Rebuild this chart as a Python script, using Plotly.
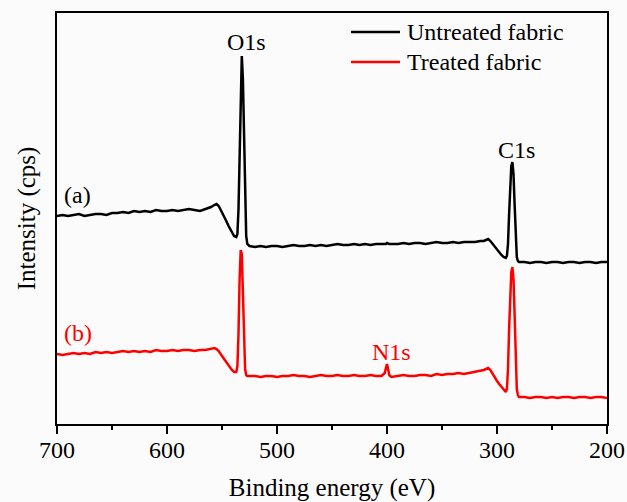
import plotly.graph_objects as go

# Binding energy (eV) sample points
energy = [700, 695, 690, 685, 680, 675, 670, 665, 660, 655, 650, 645, 640, 635, 630,
          625, 620, 615, 610, 605, 600, 595, 590, 585, 580, 575, 570,
          565, 560, 557, 555, 553, 550, 547, 544, 541, 539, 537, 536, 535, 534, 533,
          532, 531, 530, 529, 528, 527, 525,
          520, 515, 510, 505, 500, 495, 490, 485, 480, 475, 470, 465, 460, 455, 450,
          445, 440, 435, 430, 425, 420, 415, 410, 405,
          402, 401, 400, 399, 398, 396,
          390, 385, 380, 375, 370, 365, 360, 355, 350, 345, 340, 335, 330, 325, 320,
          315, 312, 310, 308, 306, 304, 302, 300, 298, 296, 294, 292, 291, 290, 289,
          288, 287, 286, 285, 284, 283, 282, 281, 280,
          275, 270, 265, 260, 255, 250, 245, 240, 235, 230, 225, 220, 215, 210, 205, 200]

# (a) Untreated fabric intensity (arbitrary offset units)
untreated = [208, 209, 208, 209, 210, 208, 209, 210, 210, 209, 211, 211, 212, 211, 213,
             212, 213, 212, 214, 213, 213, 214, 213, 214, 215, 214, 213,
             215, 217, 219, 220, 218, 212, 205, 198, 192, 188, 187, 190, 215, 275, 340,
             368, 345, 280, 215, 188, 180, 178,
             177, 178, 177, 178, 178, 177, 178, 179, 178, 178, 179, 178, 179, 178, 179,
             180, 179, 179, 180, 179, 180, 179, 180, 180,
             180, 180, 181, 180, 180, 180,
             180, 181, 180, 181, 181, 180, 181, 182, 181, 181, 182, 181, 182, 182, 182,
             183, 183, 184, 185, 183, 180, 177, 174, 171, 169, 167, 166, 168, 180, 210,
             240, 258, 262, 250, 220, 185, 167, 163, 162,
             162, 161, 162, 162, 161, 162, 162, 161, 162, 162, 161, 162, 162, 161, 162, 162]

# (b) Treated fabric intensity (arbitrary offset units)
treated = [70, 69, 70, 71, 70, 71, 70, 72, 71, 72, 71, 72, 73, 72, 73,
           72, 73, 72, 74, 73, 73, 74, 73, 74, 74, 73, 74,
           74, 75, 76, 75, 73, 68, 63, 58, 54, 52, 52, 58, 90, 145, 174,
           170, 130, 80, 55, 49, 48, 48,
           48, 47, 48, 48, 47, 48, 48, 49, 48, 48, 47, 48, 49, 48, 48,
           49, 48, 48, 49, 48, 48, 49, 48, 48,
           51, 56, 60, 55, 49, 47,
           48, 49, 48, 48, 49, 49, 48, 50, 49, 50, 50, 51, 50, 51, 52,
           53, 54, 55, 56, 54, 50, 46, 43, 40, 37, 34, 32, 35, 55, 95,
           130, 152, 157, 145, 110, 65, 35, 29, 27,
           27, 26, 27, 27, 26, 27, 26, 27, 27, 26, 27, 27, 26, 27, 27, 26]

series_names = ["Untreated fabric", "Treated fabric"]
series_colors = ["#000000", "#ff0000"]

# Peak labels: (text, energy, intensity, color)
peak_labels = [("O1s", 527.3, 382, "#000000"),
               ("C1s", 282.7, 274, "#000000"),
               ("N1s", 395.5, 72, "#ff0000"),
               ("(a)", 681, 229, "#000000"),
               ("(b)", 681, 91, "#ff0000")]

FONT = "Liberation Serif, Times New Roman, serif"

fig = go.Figure()
for name, ys, col in zip(series_names, [untreated, treated], series_colors):
    fig.add_trace(go.Scatter(x=energy, y=ys, mode="lines", name=name,
                             line=dict(color=col, width=2.5), showlegend=False))

for text, xv, yv, col in peak_labels:
    fig.add_annotation(x=xv, y=yv, text=text, showarrow=False,
                       font=dict(family=FONT, size=24, color=col),
                       xanchor="center", yanchor="middle")

# Legend drawn inside the frame (top right), in paper coordinates
legend_rows_y = [0.9538, 0.8808]
for name, col, ly in zip(series_names, series_colors, legend_rows_y):
    fig.add_shape(type="line", xref="paper", yref="paper",
                  x0=0.5345, x1=0.6236, y0=ly, y1=ly,
                  line=dict(color=col, width=2.5))
    fig.add_annotation(xref="paper", yref="paper", x=0.6327, y=ly, text=name,
                       showarrow=False, xanchor="left", yanchor="middle",
                       font=dict(family=FONT, size=24, color="#000000"))

fig.update_layout(
    width=627, height=502,
    margin=dict(l=57, r=20, t=13, b=78),
    paper_bgcolor="#fbfbfb", plot_bgcolor="#fbfbfb",
    font=dict(family=FONT, size=24, color="#000000"),
    showlegend=False,
    xaxis=dict(range=[700, 200], tickvals=[700, 600, 500, 400, 300, 200],
               ticks="outside", ticklen=8, tickwidth=1.5, tickcolor="#000",
               ticklabelstandoff=-5,
               minor=dict(dtick=50, ticks="outside", ticklen=4, tickwidth=1.5, tickcolor="#000"),
               showline=True, linecolor="#000", linewidth=2, mirror=True,
               showgrid=False, zeroline=False, automargin=False,
               title=dict(text="Binding energy (eV)", font=dict(family=FONT, size=25), standoff=17),
               tickfont=dict(family=FONT, size=24)),
    yaxis=dict(range=[0, 411], showticklabels=False, ticks="",
               showline=True, linecolor="#000", linewidth=2, mirror=True,
               showgrid=False, zeroline=False, automargin=False,
               title=dict(text="Intensity (cps)", font=dict(family=FONT, size=25), standoff=12)),
)

fig.write_html("out.html", config={"displayModeBar": False},
               post_script="document.body.style.margin='0';document.body.style.overflow='hidden';")
